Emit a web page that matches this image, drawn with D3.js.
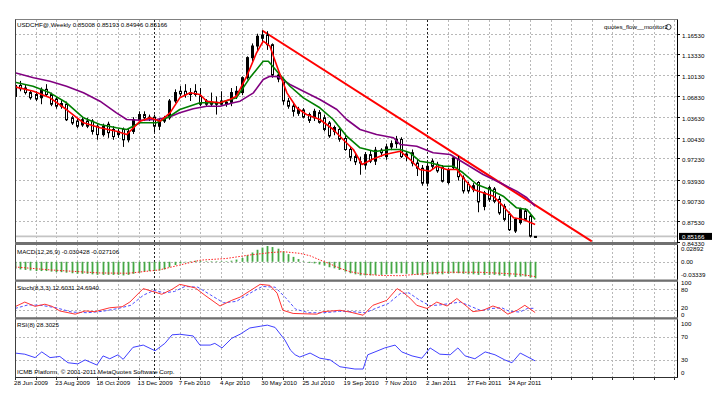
<!DOCTYPE html>
<html>
<head>
<meta charset="utf-8">
<script src="https://cdn.jsdelivr.net/npm/d3@7"></script>
<style>
body{margin:0;background:#fff}
svg{display:block}
text{font-family:"Liberation Sans",Arial,sans-serif;font-size:6.2px;fill:#000}
</style>
</head>
<body>
<div id="chart"></div>
<script>
// weekly USDCHF bars, index 0 = 28 Jun 2009
var opens  = [1.068,1.085,1.081,1.074,1.071,1.066,1.079,1.071,1.064,1.053,1.056,1.035,1.030,1.024,1.030,1.030,1.022,1.009,1.025,1.017,
              1.009,1.017,1.001,1.014,1.032,1.040,1.035,1.036,1.022,1.030,1.035,1.061,1.076,1.076,1.074,1.076,1.069,1.061,1.059,1.056,
              1.061,1.059,1.059,1.070,1.074,1.097,1.128,1.146,1.158,1.163,1.148,1.101,1.094,1.061,1.053,1.042,1.047,1.040,1.035,1.043,
              1.035,1.027,1.014,1.017,1.003,0.986,0.975,0.967,0.962,0.978,0.968,0.985,0.975,0.990,0.995,1.0015,0.975,0.981,0.965,0.957,
              0.934,0.968,0.963,0.958,0.935,0.958,0.971,0.942,0.932,0.924,0.935,0.898,0.927,0.925,0.909,0.898,0.886,0.860,0.873,0.891,
              0.883,0.85008];
var highs  = [1.089,1.092,1.087,1.077,1.076,1.082,1.087,1.074,1.068,1.062,1.060,1.038,1.034,1.036,1.035,1.033,1.025,1.026,1.029,1.022,
              1.018,1.020,1.018,1.036,1.045,1.045,1.040,1.040,1.034,1.038,1.064,1.079,1.084,1.087,1.081,1.087,1.081,1.064,1.074,1.068,
              1.076,1.062,1.081,1.084,1.099,1.130,1.150,1.165,1.170,1.169,1.150,1.106,1.097,1.066,1.058,1.052,1.050,1.043,1.049,1.047,
              1.040,1.030,1.023,1.021,1.010,0.990,0.980,0.975,0.982,0.985,0.990,0.988,0.995,1.000,1.007,1.005,0.984,0.986,0.970,0.962,
              0.965,0.972,0.967,0.962,0.958,0.976,0.976,0.946,0.936,0.934,0.937,0.922,0.930,0.928,0.914,0.902,0.890,0.880,0.896,0.895,
              0.887,0.85193];
var lows   = [1.066,1.076,1.071,1.063,1.061,1.056,1.068,1.053,1.049,1.049,1.030,1.024,1.019,1.021,1.019,1.009,1.001,1.006,1.004,1.001,
              1.004,0.990,0.997,1.010,1.028,1.030,1.030,1.013,1.016,1.027,1.032,1.058,1.068,1.066,1.061,1.068,1.053,1.052,1.053,1.040,
              1.053,1.052,1.053,1.064,1.070,1.094,1.122,1.138,1.150,1.140,1.097,1.090,1.055,1.049,1.037,1.038,1.034,1.027,1.030,1.026,
              1.014,1.004,1.008,0.998,0.984,0.968,0.962,0.947,0.955,0.965,0.962,0.975,0.970,0.985,0.988,0.973,0.968,0.960,0.945,0.930,
              0.929,0.955,0.950,0.935,0.932,0.955,0.938,0.918,0.918,0.920,0.889,0.892,0.905,0.903,0.885,0.875,0.860,0.857,0.870,0.875,
              0.850,0.84946];
var closes = [1.085,1.080,1.074,1.066,1.064,1.079,1.071,1.056,1.053,1.057,1.032,1.027,1.022,1.032,1.022,1.014,1.009,1.022,1.012,1.006,
              1.014,1.001,1.014,1.032,1.040,1.035,1.036,1.022,1.030,1.034,1.061,1.074,1.072,1.071,1.071,1.071,1.056,1.056,1.056,1.059,
              1.056,1.056,1.074,1.076,1.097,1.128,1.146,1.161,1.163,1.148,1.101,1.095,1.061,1.053,1.045,1.048,1.036,1.031,1.045,1.028,
              1.017,1.007,1.020,1.002,0.986,0.974,0.967,0.965,0.978,0.968,0.985,0.981,0.990,0.995,1.002,0.975,0.979,0.965,0.957,0.934,
              0.960,0.960,0.953,0.937,0.955,0.973,0.944,0.922,0.922,0.930,0.905,0.919,0.909,0.906,0.888,0.878,0.862,0.878,0.893,0.878,
              0.852,0.85166];

// moving averages: [bar, price]
var maFast = [[0,1.0829],[3.6,1.0761],[6.8,1.0659],[10,1.0478],[13.3,1.0273],[16.5,1.0196],[19.7,1.0143],[21.7,1.0092],[24.3,1.0298],
              [26.2,1.0350],[28.2,1.0298],[30.1,1.0427],[32,1.0659],[34,1.0736],[35.9,1.0710],[37.2,1.0607],[39.8,1.0582],[41.7,1.0633],
              [43,1.0684],[45,1.0993],[46.9,1.1355],[48.2,1.1534],[49.5,1.1457],[51.1,1.1097],[52.8,1.0736],[54.7,1.0505],[56.6,1.0401],
              [59.2,1.0324],[61.8,1.0169],[63.7,1.0015],[65.7,0.9860],[67.4,0.9628],[69.3,0.9706],[71.8,0.9783],[74.8,0.9834],[76.7,0.9706],
              [78.6,0.9551],[80.6,0.9525],[81.9,0.9602],[83.8,0.9551],[85.8,0.9551],[87,0.9423],[89,0.9242],[90.9,0.9191],[92.9,0.9138],
              [94.8,0.8984],[96.8,0.8804],[98.7,0.8778],[101,0.8701]];
var maMid  = [[0,1.0900],[3.5,1.0838],[6.8,1.0736],[10,1.0582],[13.3,1.0350],[16.5,1.0246],[19.7,1.0196],[21.7,1.0169],[24.3,1.0273],
              [27.5,1.0273],[30.1,1.0375],[32,1.0478],[35.9,1.0582],[39.8,1.0582],[43,1.0659],[45.6,1.0968],[48.2,1.1225],[49.2,1.1225],
              [51.1,1.1046],[53.4,1.0838],[56,1.0659],[59.2,1.0505],[61.8,1.0324],[64.4,1.0066],[67,0.9886],[69.9,0.9829],[72.8,0.9860],
              [74.8,0.9860],[76.7,0.9809],[78.6,0.9679],[80.6,0.9654],[83.2,0.9602],[85.1,0.9602],[87,0.9500],[89.7,0.9319],[92.2,0.9242],
              [94.8,0.9138],[97.4,0.8959],[99.4,0.8933],[101,0.8778]];
var maSlow = [[0,1.1046],[3.6,1.0968],[6.8,1.0916],[10,1.0838],[13.3,1.0736],[16.5,1.0607],[19.7,1.0427],[21.7,1.0324],[24.3,1.0313],
              [27.5,1.0324],[30.1,1.0366],[32,1.0427],[34.6,1.0489],[37.2,1.0529],[39.8,1.0529],[42.4,1.0582],[43.7,1.0607],[46.3,1.0736],
              [48.2,1.0942],[49.5,1.0993],[51.1,1.0984],[53.4,1.0865],[56,1.0761],[59.2,1.0633],[62.5,1.0478],[64.4,1.0324],[67,1.0169],
              [70.2,1.0092],[73.5,1.0041],[74.8,0.9937],[78,0.9911],[81.2,0.9809],[84.5,0.9783],[87.7,0.9628],[90.9,0.9474],[94.2,0.9345],
              [97.4,0.9216],[99.4,0.9114],[101,0.8984]];
// user trend line anchors [bar, price]
var trendLine = [[48,1.1700],[112,0.8440]];

// MACD(12,26,9) main per bar, signal [bar, value]
var macdMain = [-0.013,-0.014,-0.015,-0.016,-0.017,-0.017,-0.017,-0.018,-0.019,-0.019,-0.020,-0.021,-0.022,-0.022,-0.022,-0.023,-0.024,-0.024,-0.024,-0.024,
                -0.024,-0.025,-0.024,-0.022,-0.020,-0.018,-0.017,-0.017,-0.016,-0.014,-0.010,-0.006,-0.003,-0.001,0.001,0.002,0.002,0.001,0.001,0.001,
                0.001,0.001,0.002,0.004,0.007,0.012,0.017,0.022,0.026,0.0289,0.027,0.024,0.019,0.014,0.009,0.005,0.001,-0.002,-0.003,-0.005,
                -0.007,-0.010,-0.012,-0.015,-0.018,-0.021,-0.023,-0.025,-0.025,-0.025,-0.024,-0.024,-0.023,-0.022,-0.021,-0.021,-0.022,-0.023,-0.024,-0.025,
                -0.024,-0.023,-0.023,-0.023,-0.022,-0.021,-0.021,-0.022,-0.023,-0.023,-0.024,-0.024,-0.024,-0.024,-0.025,-0.026,-0.027,-0.028,-0.027,-0.027,
                -0.029,-0.030428];
var macdSignal = [[0,-0.0095],[7,-0.015],[16.5,-0.0205],[22,-0.021],[28,-0.015],[32,-0.006],[36,0.003],[41,0.006],[45.6,0.0125],[49.5,0.0167],
                  [52,0.0185],[55.3,0.0155],[57.3,0.011],[59.2,0.0033],[61.2,-0.004],[63.1,-0.012],[65,-0.018],[67.6,-0.0225],[70.9,-0.025],
                  [74.8,-0.0255],[78.6,-0.0225],[82.5,-0.0192],[86.4,-0.0192],[90.3,-0.0192],[94.2,-0.0210],[98,-0.023],[101,-0.027106]];
// Stoch(8,3,3)
var stochK = [[0,29],[1.9,42],[3.9,30],[5.8,36],[7.2,30],[8.7,17],[11.7,8],[13.6,17],[15.5,15],[18.4,26],[20.8,29],[22.3,42],[24.9,80],
              [27.2,70],[28.5,64],[30.5,78],[32,92],[35,82],[36.9,61],[39.8,31],[42.1,47],[43.7,56],[47.6,92],[49.5,89],[50.9,67],[52,19],
              [54,10],[58.6,8],[59.8,15],[63.1,19],[65,14],[67.6,5],[69.5,33],[72.2,47],[74.2,80],[75.3,70],[76.7,53],[78,33],[80,24],
              [81.9,42],[83.9,31],[85.8,52],[87.8,29],[88.9,15],[90.9,19],[92.8,31],[94.2,24],[95.7,8],[97.5,19],[99,33],[101,12.6031]];
var stochD = [[0,24],[2.5,34],[5,33],[8,26],[11,14],[14,12],[17,16],[20,24],[22.5,33],[25,62],[27,75],[29,68],[31,72],[33,86],[35.5,84],
              [38,62],[40.5,40],[43,44],[45.5,66],[48,86],[50.5,84],[52.5,55],[54.5,22],[57,12],[60,12],[63,16],[65.5,15],[68,12],[70,24],
              [72.5,38],[74.8,66],[76.5,68],[78.5,48],[80.5,32],[82.5,34],[84.5,38],[86.5,42],[88.5,30],[90.5,18],[92.5,24],[94.5,26],
              [96,16],[98,14],[99.5,24],[101,24.694]];
// RSI(8)
var rsi8 = [[0,42],[1.9,40],[3.9,34],[5.2,44],[6.8,34],[8.7,36],[10.3,25],[12.2,23],[13.6,30],[15.9,21],[17.1,37],[18.4,32],[20,39],[21,31],
            [22.9,52],[24.9,56],[27.2,46],[29.1,59],[30.5,74],[32,75],[34.6,72],[35.9,56],[37.9,56],[38.8,59],[40.2,51],[42.1,68],[43.7,75],
            [45.6,86],[47.6,89],[49,91],[50.5,87],[52.4,65],[53.5,47],[54.4,39],[55.3,35],[57.3,42],[59.2,33],[61.2,30],[63.1,18],[66,14],
            [67.6,14],[68.5,39],[69.9,44],[71.8,51],[73.8,56],[75.1,44],[77.1,37],[79,33],[80.6,51],[82.5,40],[84.5,39],[86,51],[87.4,37],
            [89.3,32],[91.3,44],[93.2,39],[95.1,30],[96.5,25],[98.1,42],[99.6,35],[101,28.3025]];

var priceTicks = [1.1653,1.1333,1.1013,1.0683,1.0363,1.0043,0.9723,0.9393,0.9073,0.8753,0.8433];
var timeLabels = ["28 Jun 2009","23 Aug 2009","18 Oct 2009","13 Dec 2009","7 Feb 2010","4 Apr 2010","30 May 2010",
                  "25 Jul 2010","19 Sep 2010","7 Nov 2010","2 Jan 2011","27 Feb 2011","24 Apr 2011"];
var timeLabelBars = [0,8,16,24,32,40,48,56,64,72,80,88,96];
var yearBars = [27,80];

var W = 712, H = 399, L = 15, R = 677;
var svg = d3.select("#chart").append("svg").attr("width", W).attr("height", H);

var x = d3.scaleLinear().domain([0, 128.74]).range([15, 678]);
var yMain = d3.scaleLinear().domain([0.8430, 1.1862]).range([242, 20]);
var yMacd = d3.scaleLinear().domain([-0.03339, 0.02892]).range([280, 246]);
var yStoch = d3.scaleLinear().domain([0, 100]).range([317, 281.5]);
var yRsi = d3.scaleLinear().domain([0, 100]).range([377, 320]);

var panels = [{id:"cMain",t:20,b:242},{id:"cMacd",t:245,b:280},{id:"cStoch",t:281.5,b:317},{id:"cRsi",t:319.5,b:377}];
var defs = svg.append("defs");
panels.forEach(function(p){
    defs.append("clipPath").attr("id", p.id).append("rect")
        .attr("x", L).attr("y", p.t).attr("width", R - L).attr("height", p.b - p.t);
});

var grid = svg.append("g").attr("stroke", "#b8b8b8").attr("stroke-width", 1).attr("stroke-dasharray", "2,2");
// vertical grid every 4 bars
d3.range(4, 129, 4).forEach(function(b){
    var xx = Math.round(x(b)) + 0.5;
    grid.append("line").attr("x1", xx).attr("x2", xx).attr("y1", 20).attr("y2", 377);
});
// horizontal grid
priceTicks.slice(0, 10).forEach(function(p){
    var yy = Math.round(yMain(p)) + 0.5;
    grid.append("line").attr("x1", L).attr("x2", R).attr("y1", yy).attr("y2", yy);
});
[[yMacd, 0], [yStoch, 80], [yStoch, 20], [yRsi, 70], [yRsi, 30]].forEach(function(a){
    var yy = Math.round(a[0](a[1])) + 0.5;
    grid.append("line").attr("x1", L).attr("x2", R).attr("y1", yy).attr("y2", yy);
});
// year separators
yearBars.forEach(function(b){
    var xx = Math.round(x(b)) + 0.5;
    svg.append("line").attr("x1", xx).attr("x2", xx).attr("y1", 20).attr("y2", 377)
        .attr("stroke", "#202020").attr("stroke-dasharray", "2,2");
});

// ---- main window
var gMain = svg.append("g").attr("clip-path", "url(#cMain)");
var bars = d3.range(closes.length);
gMain.append("line").attr("x1", L).attr("x2", R)
    .attr("y1", yMain(closes[closes.length - 1])).attr("y2", yMain(closes[closes.length - 1]))
    .attr("stroke", "#c4c4c4").attr("stroke-width", 1.6);

var lineMain = d3.line().x(function(d){ return x(d[0]); }).y(function(d){ return yMain(d[1]); });
gMain.append("path").datum(trendLine).attr("d", lineMain).attr("fill", "none").attr("stroke", "#ff0000").attr("stroke-width", 2);

var cg = gMain.selectAll("g.c").data(bars).enter().append("g");
cg.append("line")
    .attr("x1", function(i){ return Math.round(x(i)) + 0.5; })
    .attr("x2", function(i){ return Math.round(x(i)) + 0.5; })
    .attr("y1", function(i){ return yMain(highs[i]); })
    .attr("y2", function(i){ return yMain(lows[i]); })
    .attr("stroke", "#000").attr("stroke-width", 1);
cg.append("rect")
    .attr("x", function(i){ return Math.round(x(i)) - 0.5; })
    .attr("width", 2)
    .attr("y", function(i){ return yMain(Math.max(opens[i], closes[i])); })
    .attr("height", function(i){ return Math.max(0.6, Math.abs(yMain(opens[i]) - yMain(closes[i]))); })
    .attr("fill", function(i){ return closes[i] >= opens[i] ? "#000" : "#fff"; })
    .attr("stroke", "#000").attr("stroke-width", 1);

[[maSlow, "#800080"], [maMid, "#008000"], [maFast, "#ff0000"]].forEach(function(m){
    gMain.append("path").datum(m[0]).attr("d", lineMain).attr("fill", "none")
        .attr("stroke", m[1]).attr("stroke-width", 1.6).attr("stroke-linejoin", "round");
});

// ---- MACD window
var gMacd = svg.append("g").attr("clip-path", "url(#cMacd)");
gMacd.selectAll("line.h").data(bars).enter().append("line")
    .attr("x1", function(i){ return Math.round(x(i)) + 0.5; })
    .attr("x2", function(i){ return Math.round(x(i)) + 0.5; })
    .attr("y1", yMacd(0))
    .attr("y2", function(i){ return yMacd(macdMain[i]); })
    .attr("stroke", "#45a845").attr("stroke-width", 1.8);
gMacd.append("path").datum(macdSignal)
    .attr("d", d3.line().x(function(d){ return x(d[0]); }).y(function(d){ return yMacd(d[1]); }))
    .attr("fill", "none").attr("stroke", "#ff2020").attr("stroke-width", 1).attr("stroke-dasharray", "1.5,1.5");

// ---- Stochastic window
var gSt = svg.append("g").attr("clip-path", "url(#cStoch)");
var lineSt = d3.line().x(function(d){ return x(d[0]); }).y(function(d){ return yStoch(d[1]); });
gSt.append("path").datum(stochD).attr("d", lineSt).attr("fill", "none")
    .attr("stroke", "#4d4dff").attr("stroke-width", 1).attr("stroke-dasharray", "3,2");
gSt.append("path").datum(stochK).attr("d", lineSt).attr("fill", "none")
    .attr("stroke", "#ff3333").attr("stroke-width", 1);

// ---- RSI window
var gR = svg.append("g").attr("clip-path", "url(#cRsi)");
gR.append("path").datum(rsi8)
    .attr("d", d3.line().x(function(d){ return x(d[0]); }).y(function(d){ return yRsi(d[1]); }))
    .attr("fill", "none").attr("stroke", "#4040ff").attr("stroke-width", 1);

// ---- frames and separators
svg.append("line").attr("x1", L).attr("x2", R + 0.5).attr("y1", 19.5).attr("y2", 19.5).attr("stroke", "#808080");
svg.append("line").attr("x1", L + 0.5).attr("x2", L + 0.5).attr("y1", 19.5).attr("y2", 377).attr("stroke", "#404040");
svg.append("line").attr("x1", R + 0.5).attr("x2", R + 0.5).attr("y1", 19.5).attr("y2", 377.5).attr("stroke", "#000");
[[242, 3], [279.5, 2.3], [317.2, 2.3]].forEach(function(s){
    svg.append("rect").attr("x", L).attr("y", s[0]).attr("width", R - L + 1).attr("height", s[1]).attr("fill", "#707070");
});
svg.append("line").attr("x1", L).attr("x2", R + 1).attr("y1", 377.5).attr("y2", 377.5).attr("stroke", "#303030");

// time axis
d3.range(0, 129, 4).forEach(function(b){
    var xx = Math.round(x(b)) + 0.5;
    svg.append("line").attr("x1", xx).attr("x2", xx).attr("y1", 377).attr("y2", 380).attr("stroke", "#303030");
});
timeLabels.forEach(function(t, k){
    svg.append("text").attr("x", x(timeLabelBars[k]) - 1).attr("y", 385).text(t);
});

// price axis
priceTicks.forEach(function(p){
    var yy = Math.round(yMain(p)) + 0.5;
    svg.append("line").attr("x1", R).attr("x2", R + 3).attr("y1", yy).attr("y2", yy).attr("stroke", "#000");
    svg.append("text").attr("x", 682).attr("y", yy + 3).text(p.toFixed(5));
});
var last = closes[closes.length - 1];
svg.append("rect").attr("x", 679).attr("y", yMain(last) - 3.5).attr("width", 33).attr("height", 7).attr("fill", "#000");
svg.append("text").attr("x", 682).attr("y", yMain(last) + 2.2).style("fill", "#fff").text(last.toFixed(5));

// indicator scale labels
[["0.02892", 251], ["0.00", 264], ["-0.03339", 277]].forEach(function(a){
    svg.append("text").attr("x", 681).attr("y", a[1]).text(a[0]);
});
[["100", 284.6], ["80", 292.4], ["20", 309.6], ["0", 317.4], ["100", 325.5], ["70", 338.5], ["30", 361.5], ["0", 375]].forEach(function(a){
    svg.append("text").attr("x", 681).attr("y", a[1]).text(a[0]);
});

// window captions
svg.append("text").attr("x", 17).attr("y", 27).text("USDCHF@,Weekly  0.85008 0.85193 0.84946 0.85166");
svg.append("text").attr("x", 604).attr("y", 29).text("quotes_flow__monitor2");
svg.append("circle").attr("cx", 668.5).attr("cy", 27).attr("r", 2.6).attr("fill", "none").attr("stroke", "#000").attr("stroke-width", 0.7);
svg.append("text").attr("x", 17).attr("y", 254).text("MACD(12,26,9) -0.030428 -0.027106");
svg.append("text").attr("x", 17).attr("y", 290).text("Stoch(8,3,3) 12.6031 24.6940");
svg.append("text").attr("x", 17).attr("y", 327).text("RSI(8) 28.3025");
svg.append("text").attr("x", 17).attr("y", 374).text("ICMB Platform, \u00a9 2001-2011 MetaQuotes Software Corp.");
</script>
</body>
</html>
